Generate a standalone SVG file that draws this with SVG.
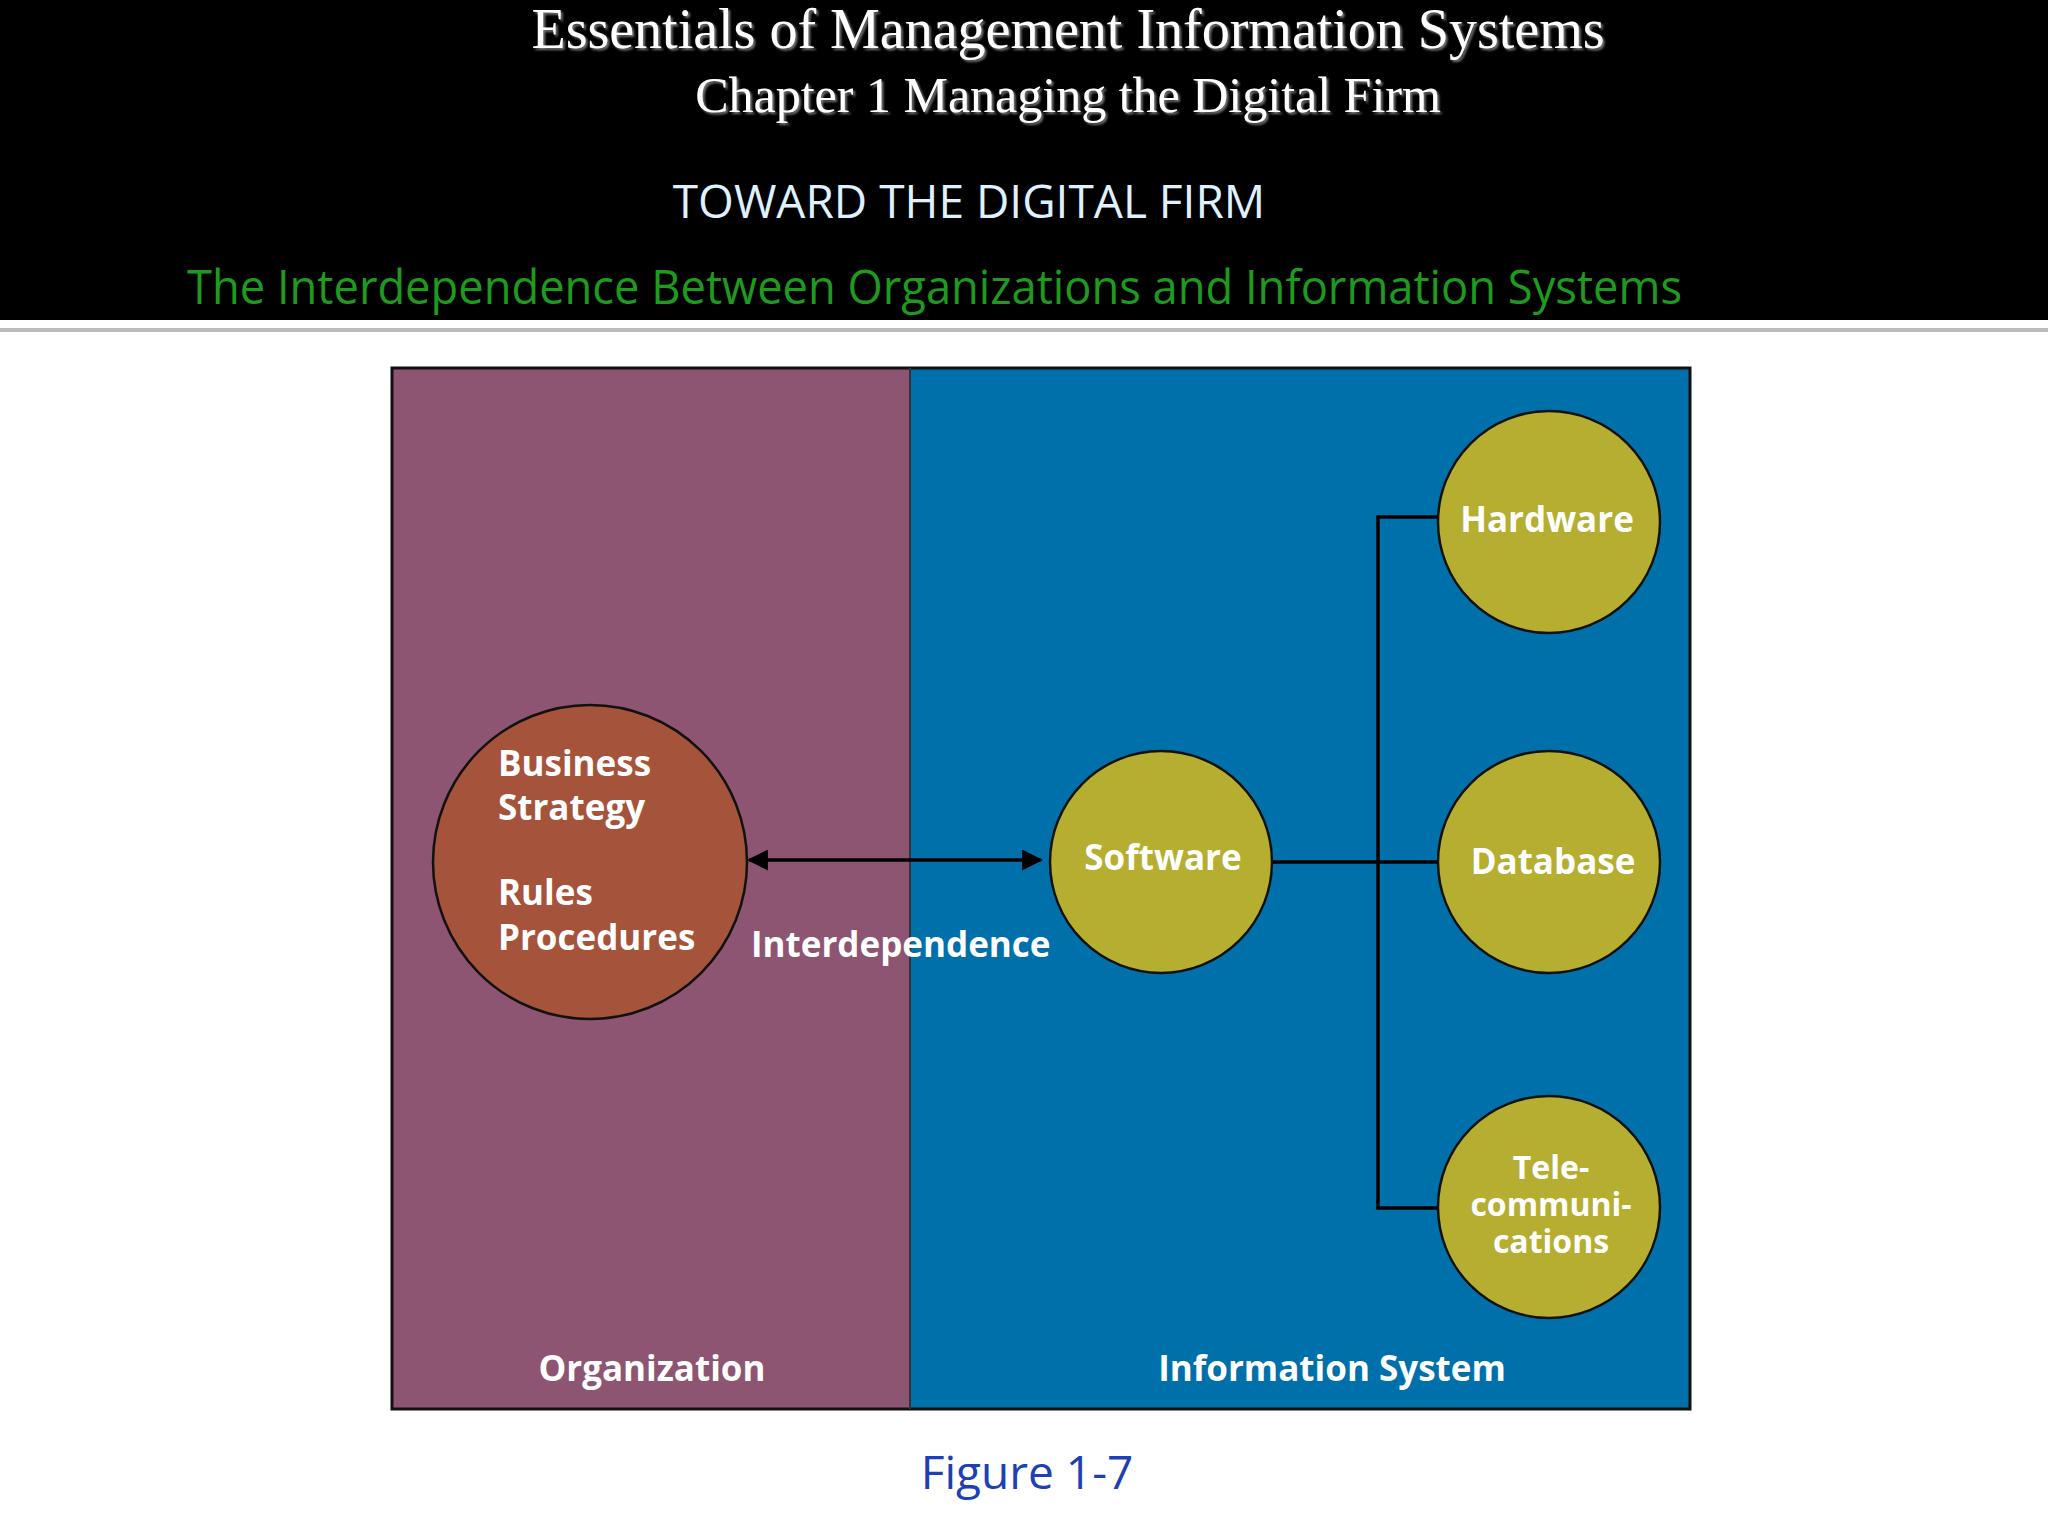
<svg xmlns="http://www.w3.org/2000/svg" width="2048" height="1536" viewBox="0 0 2048 1536">
<defs>
<style>
.t{font-family:"Liberation Serif",serif;fill:#fff;text-anchor:middle}
.b{font-family:"Open Sans","DejaVu Sans",sans-serif;font-weight:bold;fill:#fff;font-size:35px}
.s{font-size:32px}
.c{stroke:#111;stroke-width:2.5}
.l{stroke:#000;stroke-width:3.5;fill:none}
</style>
<marker id="ah" viewBox="0 0 10 10" refX="9" refY="5" markerWidth="6" markerHeight="6" orient="auto-start-reverse"><path d="M0,0L10,5L0,10z" fill="#000"/></marker>
<filter id="sh"><feDropShadow dx="2" dy="2" stdDeviation="1" flood-color="#777"/></filter>
</defs>
<rect width="2048" height="1536" fill="#fff"/>
<rect width="2048" height="320" fill="#000"/>
<rect y="328" width="2048" height="4" fill="#bbb"/>
<g filter="url(#sh)">
<text class="t" x="1068" y="48" font-size="56">Essentials of Management Information Systems</text>
<text class="t" x="1068" y="112" font-size="50">Chapter 1 Managing the Digital Firm</text>
</g>
<text x="969" y="218" font-family="Open Sans,sans-serif" font-size="46" fill="#dff0ff" text-anchor="middle">TOWARD THE DIGITAL FIRM</text>
<text x="187" y="304" font-family="Open Sans,sans-serif" font-size="48" fill="#1e9a1e" textLength="1495" lengthAdjust="spacingAndGlyphs">The Interdependence Between Organizations and Information Systems</text>
<rect x="392" y="368" width="518" height="1041" fill="#8E5572"/>
<rect x="910" y="368" width="780" height="1041" fill="#0070AA"/>
<rect x="392" y="368" width="1298" height="1041" fill="none" stroke="#111" stroke-width="3"/>
<line x1="910" y1="368" x2="910" y2="1409" stroke="#333" stroke-width="2"/>
<g id="connectors">
<line class="l" x1="749" y1="860" x2="1041" y2="860" marker-start="url(#ah)" marker-end="url(#ah)"/>
<path class="l" d="M1272,862H1438M1438,517H1378V1208H1438"/>
</g>
<g id="business"><circle class="c" cx="590" cy="862" r="157" fill="#A5533A"/>
<text class="b" x="498" y="776">Business</text><text class="b" x="498" y="820">Strategy</text>
<text class="b" x="498" y="905">Rules</text><text class="b" x="498" y="950">Procedures</text></g>
<g id="software"><circle class="c" cx="1161" cy="862" r="111" fill="#B5AE30"/><text class="b" x="1163" y="870" text-anchor="middle">Software</text></g>
<g id="hardware"><circle class="c" cx="1549" cy="522" r="111" fill="#B5AE30"/><text class="b" x="1547" y="532" text-anchor="middle">Hardware</text></g>
<g id="database"><circle class="c" cx="1549" cy="862" r="111" fill="#B5AE30"/><text class="b" x="1553" y="874" text-anchor="middle">Database</text></g>
<g id="tele"><circle class="c" cx="1549" cy="1207" r="111" fill="#B5AE30"/>
<text class="b s" x="1551" y="1179" text-anchor="middle">Tele-</text><text class="b s" x="1551" y="1216" text-anchor="middle">communi-</text><text class="b s" x="1551" y="1253" text-anchor="middle">cations</text></g>
<text class="b" x="751" y="957">Interdependence</text>
<text class="b" x="652" y="1381" text-anchor="middle">Organization</text>
<text class="b" x="1332" y="1381" text-anchor="middle">Information System</text>
<text x="1027" y="1489" font-family="Open Sans,sans-serif" font-size="46" fill="#1f3fb5" text-anchor="middle">Figure 1-7</text>
</svg>
